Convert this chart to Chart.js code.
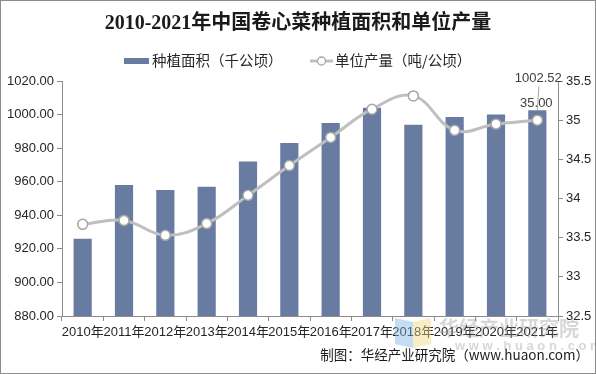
<!DOCTYPE html>
<html lang="zh">
<head>
<meta charset="UTF-8" />
<title>2010-2021年中国卷心菜种植面积和单位产量</title>
<style>
  body { margin: 0; background: #fff; }
  #wrap { width: 596px; height: 374px; }
</style>
<script src="https://cdn.jsdelivr.net/npm/chart.js"></script>
</head>
<body>
<div id="wrap"><canvas id="c" width="596" height="374"></canvas></div>
<script>
  const years = ['2010年','2011年','2012年','2013年','2014年','2015年','2016年','2017年','2018年','2019年','2020年','2021年'];
  const area = [926, 958, 955, 957, 972, 983, 995, 1004, 994, 998.5, 1000, 1002.52];   // 千公顷
  const yieldPerHa = [33.67, 33.72, 33.53, 33.68, 34.04, 34.42, 34.78, 35.14, 35.31, 34.87, 34.95, 35.00]; // 吨/公顷
  const leftTicks = [880, 1020, 20];
  const rightTicks = [32.5, 35.5, 0.5];

  const sans = '"Liberation Sans", Arial, "Noto Sans CJK SC", sans-serif';
  const cjk = '"Noto Sans CJK SC", "Liberation Sans", sans-serif';
  const barColor = '#687ba1';
  const lineColor = '#bfbfbf';

  // title, legend, end labels, watermark, source, frame
  const decor = {
    id: 'decor',
    beforeDraw(chart) {
      const c = chart.ctx;
      c.save();
      c.fillStyle = '#fff';
      c.fillRect(0, 0, chart.width, chart.height);
      c.restore();
    },
    afterDraw(chart) {
      const c = chart.ctx;
      c.save();
      // title
      c.fillStyle = '#1a1a1a';
      c.textAlign = 'center';
      c.textBaseline = 'middle';
      c.font = 'bold 20px "Liberation Serif", "Noto Sans CJK SC", serif';
      c.fillText('2010-2021年中国卷心菜种植面积和单位产量', 298, 24);

      // legend
      c.textAlign = 'left';
      c.font = '14.5px ' + cjk;
      c.fillStyle = barColor;
      c.fillRect(124, 58, 25, 6);
      c.fillStyle = '#262626';
      c.fillText('种植面积（千公顷）', 152, 60);
      c.strokeStyle = lineColor;
      c.lineWidth = 3;
      c.beginPath(); c.moveTo(310, 61); c.lineTo(333, 61); c.stroke();
      c.beginPath(); c.arc(321.5, 61, 4, 0, Math.PI * 2);
      c.fillStyle = '#fff'; c.fill();
      c.lineWidth = 1.3; c.strokeStyle = '#a6a6a6'; c.stroke();
      c.fillStyle = '#262626';
      c.fillText('单位产量（吨/公顷）', 335, 60);

      // labels for the last year
      const last = years.length - 1;
      const bar = chart.getDatasetMeta(1).data[last];
      const pt = chart.getDatasetMeta(0).data[last];
      c.font = '13px ' + sans;
      c.fillStyle = '#404040';
      c.textAlign = 'center';
      const ly = bar.y - 32;
      c.strokeStyle = '#a6a6a6';
      c.lineWidth = 1;
      c.beginPath(); c.moveTo(bar.x + 1.5, ly + 8); c.lineTo(bar.x, bar.y); c.stroke();
      c.fillText(area[last].toFixed(2), bar.x + 1, ly);
      c.fillText(yieldPerHa[last].toFixed(2), pt.x - 1, pt.y - 17);

      // watermark
      c.globalAlpha = 0.45;
      c.fillStyle = '#7fb2e8';
      c.beginPath(); c.moveTo(395, 318); c.lineTo(413, 322); c.lineTo(413, 348); c.lineTo(395, 344); c.closePath(); c.fill();
      c.fillStyle = '#f2d680';
      c.beginPath(); c.moveTo(413, 322); c.lineTo(431, 318); c.lineTo(431, 344); c.lineTo(413, 348); c.closePath(); c.fill();
      c.globalAlpha = 0.35;
      c.fillStyle = '#8c8c8c';
      c.textAlign = 'left';
      c.font = 'bold 20px ' + cjk;
      c.fillText('华经产业研究院', 439, 328);
      c.font = 'bold 13px ' + sans;
      c.fillText('w w w . h u a o n . c o m', 455, 346);
      c.globalAlpha = 1;

      // source
      c.fillStyle = '#1a1a1a';
      c.textAlign = 'right';
      c.font = '13.5px ' + cjk;
      c.fillText('制图：华经产业研究院（www.huaon.com）', 589, 355);

      // frame
      c.strokeStyle = '#8c8c8c';
      c.lineWidth = 1;
      c.strokeRect(0.5, 0.5, chart.width - 1, chart.height - 1);
      c.restore();
    }
  };

  const axisGrid = { drawOnChartArea: false, drawTicks: true, tickLength: 5, color: '#8c8c8c' };
  const axisBorder = { display: true, color: '#8c8c8c', width: 1 };

  new Chart(document.getElementById('c'), {
    data: {
      labels: years,
      datasets: [
        {
          type: 'line',
          label: '单位产量（吨/公顷）',
          data: yieldPerHa,
          yAxisID: 'y1',
          borderColor: lineColor,
          borderWidth: 3,
          tension: 0.4,
          pointRadius: 5,
          pointBackgroundColor: '#fff',
          pointBorderColor: '#a6a6a6',
          pointBorderWidth: 1.5,
          order: 0
        },
        {
          type: 'bar',
          label: '种植面积（千公顷）',
          data: area,
          yAxisID: 'y',
          backgroundColor: barColor,
          barPercentage: 0.44,
          categoryPercentage: 1,
          order: 1
        }
      ]
    },
    options: {
      responsive: false,
      animation: false,
      devicePixelRatio: 1,
      layout: { padding: { top: 81, bottom: 36, left: 0, right: 0 } },
      plugins: { legend: { display: false }, title: { display: false }, tooltip: { enabled: false } },
      scales: {
        x: {
          grid: Object.assign({ offset: true }, axisGrid),
          border: axisBorder,
          ticks: { color: '#262626', font: { family: sans, size: 13 }, padding: 4, maxRotation: 0, autoSkip: false },
          afterFit(s) { s.height = 22; }
        },
        y: {
          position: 'left',
          min: leftTicks[0], max: leftTicks[1],
          grid: axisGrid,
          border: axisBorder,
          ticks: { stepSize: leftTicks[2], color: '#262626', font: { family: sans, size: 13 }, padding: 3,
                   callback: v => v.toFixed(2) },
          afterFit(s) { s.width = 62; }
        },
        y1: {
          position: 'right',
          min: rightTicks[0], max: rightTicks[1],
          grid: axisGrid,
          border: axisBorder,
          ticks: { stepSize: rightTicks[2], color: '#262626', font: { family: sans, size: 13 }, padding: 3,
                   callback: v => String(v) },
          afterFit(s) { s.width = 38; }
        }
      }
    },
    plugins: [decor]
  });
</script>
</body>
</html>
